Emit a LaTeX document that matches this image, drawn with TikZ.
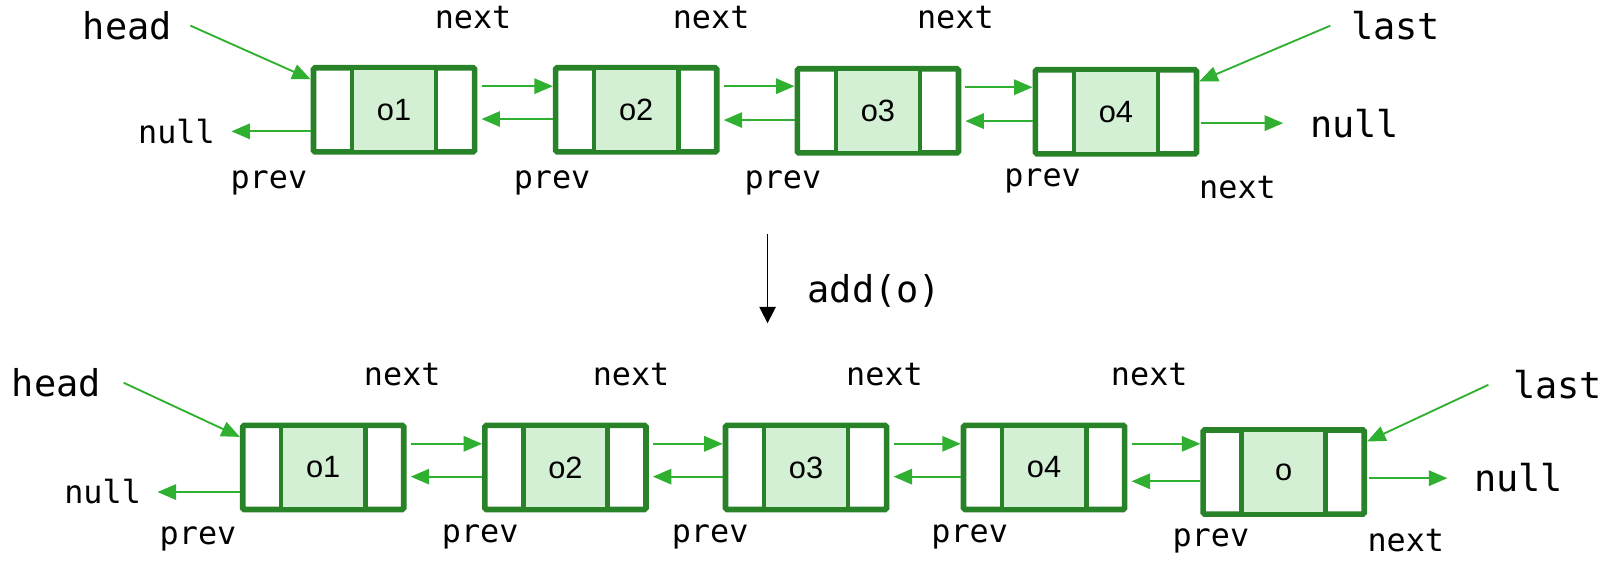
\documentclass[tikz,border=0pt]{standalone}
\usepackage{fontspec}
\setmainfont{Liberation Sans}
\setmonofont{DejaVu Sans Mono}
\usetikzlibrary{arrows.meta,calc}
\definecolor{boxline}{HTML}{288228}
\definecolor{boxfill}{HTML}{D4F0D4}
\definecolor{arr}{HTML}{30B030}
\begin{document}
\begin{tikzpicture}[x=1pt,y=-1pt,
  cellbox/.style={draw=boxline, line width=5.5pt, fill=white, minimum width=157pt, minimum height=82pt, rounded corners=1.5pt, inner sep=0pt},
  midcell/.style={draw=boxline, line width=4.5pt, fill=boxfill, minimum width=82pt, minimum height=82pt, inner sep=0pt, font=\fontsize{30}{32}\selectfont},
  lab/.style={font=\ttfamily\fontsize{31}{33}\selectfont, inner sep=0pt},
  biglab/.style={font=\ttfamily\fontsize{36}{38}\selectfont, inner sep=0pt},
  link/.style={draw=arr, line width=1.8pt, -{Triangle[length=18pt,width=15pt]}},
]
\useasboundingbox (0,0) rectangle (1568,546);

% ---------- top row ----------
\node[cellbox] (t1) at (384,107) {};
\node[midcell] (m1) at (t1) {o1};
\node[cellbox] (t2) at (620,107) {};
\node[midcell] (m2) at (t2) {o2};
\node[cellbox] (t3) at (855.5,108) {};
\node[midcell] (m3) at (t3) {o3};
\node[cellbox] (t4) at (1087.5,109) {};
\node[midcell] (m4) at (t4) {o4};

\node[biglab] (head1) at (124,25) {head};
\node[biglab] (last1) at (1360,25) {last};
\node[lab] (nx11) at (461,17) {next};
\node[lab] (nx12) at (693,17) {next};
\node[lab] (nx13) at (931,17) {next};
\node[lab] (pv11) at (262,178) {prev};
\node[lab] (pv12) at (538,178) {prev};
\node[lab] (pv13) at (763,178) {prev};
\node[lab] (pv14) at (1016,176) {prev};
\node[lab] (nx14) at (1206,183) {next};
\node[lab] (nl1) at (172,128) {null};
\node[biglab] (nr1) at (1320,120) {null};

\draw[link] ($(head1.east)+(18,0)$) -- ($(t1.north west)+(0,14)$);
\draw[link] ($(last1.west)+(-20,0)$) -- ($(t4.north east)+(0,14)$);
\coordinate (nl1s) at ($(t1.west)+(0,21)$);
\draw[link] (nl1s) -- (nl1s -| {$(nl1.east)+(16,0)$});
\coordinate (nr1s) at ($(t4.east)+(2,11)$);
\draw[link] (nr1s) -- (nr1s -| {$(nr1.west)+(-26,0)$});
\foreach \a/\b in {t1/t2,t2/t3,t3/t4}{
  \coordinate (s) at ($(\a.east)+(4,-23)$);
  \draw[link] (s) -- (s -| \b.west);
  \coordinate (r) at ($(\b.west)+(0,9)$);
  \draw[link] (r) -- (r -| {$(\a.east)+(4,0)$});
}

% ---------- operation ----------
\coordinate (opA) at (748,228);
\coordinate (opB) at (748,315);
\draw[line width=1.5pt, -{Triangle[length=16pt,width=16pt]}] (opA) -- (opB);
\node[biglab] (op) at (852,283) {add(o)};

% ---------- bottom row ----------
\node[cellbox] (b1) at (315,455.5) {};
\node[midcell] (n1) at (b1) {o1};
\node[cellbox] (b2) at (551,455.5) {};
\node[midcell] (n2) at (b2) {o2};
\node[cellbox] (b3) at (785.5,455.5) {};
\node[midcell] (n3) at (b3) {o3};
\node[cellbox] (b4) at (1017.5,455.5) {};
\node[midcell] (n4) at (b4) {o4};
\node[cellbox] (b5) at (1251,460) {};
\node[midcell] (n5) at (b5) {o};

\node[biglab] (head2) at (55,373) {head};
\node[biglab] (last2) at (1518,375) {last};
\node[lab] (nx21) at (392,365) {next};
\node[lab] (nx22) at (615,365) {next};
\node[lab] (nx23) at (862,365) {next};
\node[lab] (nx24) at (1120,365) {next};
\node[lab] (pv21) at (193,525) {prev};
\node[lab] (pv22) at (468,523) {prev};
\node[lab] (pv23) at (692,523) {prev};
\node[lab] (pv24) at (945,523) {prev};
\node[lab] (pv25) at (1180,527) {prev};
\node[lab] (nx25) at (1370,527) {next};
\node[lab] (nl2) at (100,479) {null};
\node[biglab] (nr2) at (1480,465) {null};

\draw[link] ($(head2.east)+(22,0)$) -- ($(b1.north west)+(0,14)$);
\draw[link] ($(last2.west)+(-24,0)$) -- ($(b5.north east)+(0,14)$);
\coordinate (nl2s) at ($(b1.west)+(0,24)$);
\draw[link] (nl2s) -- (nl2s -| {$(nl2.east)+(16,0)$});
\coordinate (nr2s) at ($(b5.east)+(2,6)$);
\draw[link] (nr2s) -- (nr2s -| {$(nr2.west)+(-26,0)$});
\foreach \a/\b in {b1/b2,b2/b3,b3/b4,b4/b5}{
  \coordinate (s) at ($(\a.east)+(4,-23)$);
  \draw[link] (s) -- (s -| \b.west);
  \coordinate (r) at ($(\b.west)+(0,9)$);
  \draw[link] (r) -- (r -| {$(\a.east)+(4,0)$});
}
\end{tikzpicture}
\end{document}
